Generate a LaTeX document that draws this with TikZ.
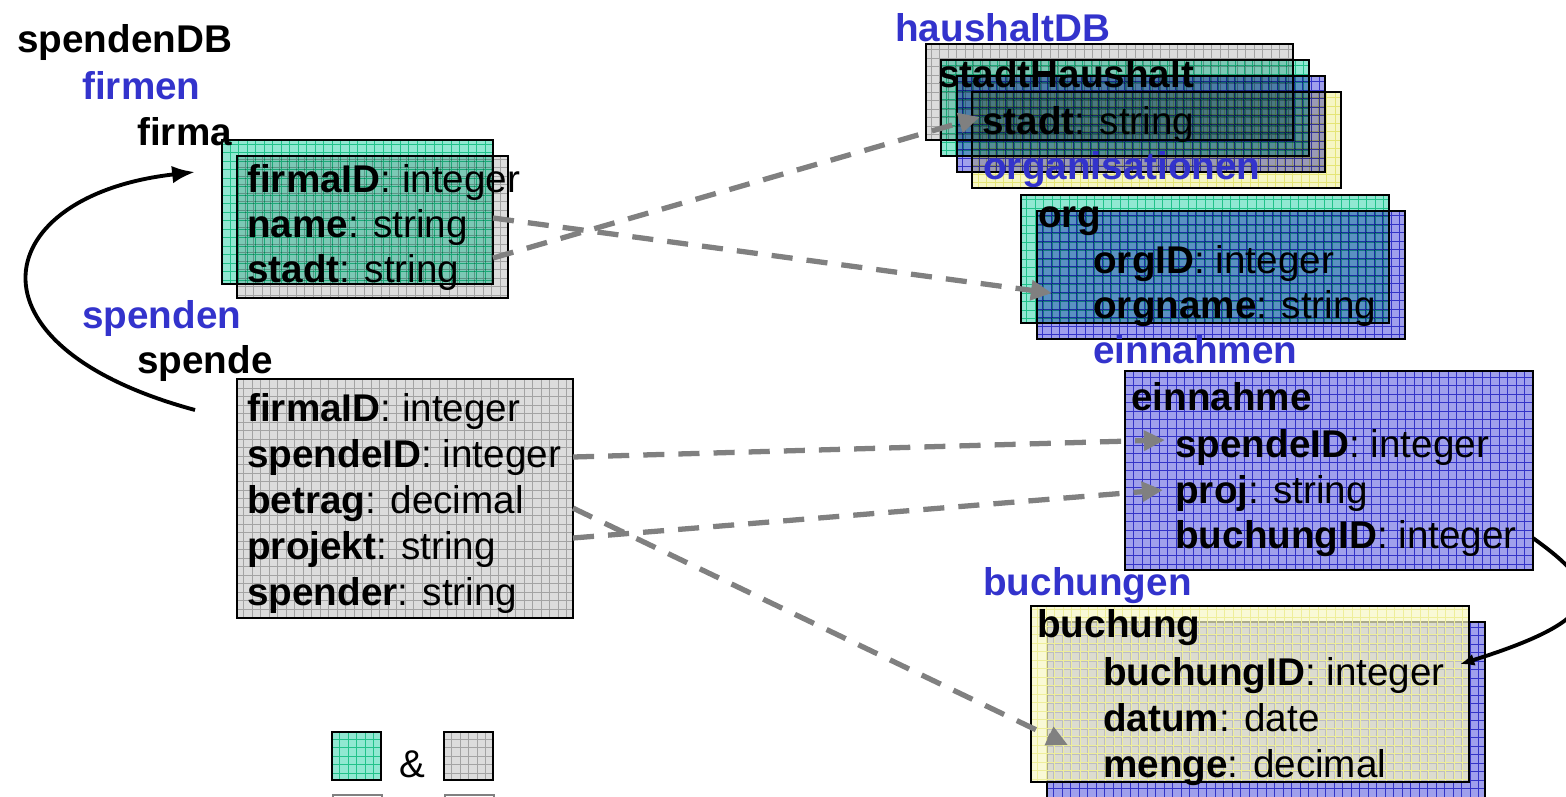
\documentclass[tikz,border=0pt]{standalone}
\usepackage{fontspec}
\setmainfont{Liberation Sans}
\usetikzlibrary{arrows.meta,calc}
\newcommand\dbfont{\fontsize{22}{26}\selectfont}

\begin{document}
\begin{tikzpicture}
  % Two databases: spendenDB (left), haushaltDB (right).
  \definecolor{dbblue}{HTML}{3333CC}
  \definecolor{greenfill}{HTML}{90E8D2}
  \definecolor{greengrid}{HTML}{3CD6A8}
  \definecolor{greyfill}{HTML}{DCDCDC}
  \definecolor{greygrid}{HTML}{BDBDBD}
  \definecolor{bluefill}{HTML}{A0A0EC}
  \definecolor{bluegrid}{HTML}{5454D8}
  \definecolor{yellowfill}{HTML}{F6F6C4}
  \definecolor{yellowgrid}{HTML}{EEEE9A}
  \definecolor{link}{HTML}{808080}
  \useasboundingbox (0,0) rectangle (31.32,15.92);
  \clip (0,0) rectangle (31.32,15.92);

  \tikzset{
    tbl/.style={draw=black, line width=1pt, fill=#1fill, inner sep=0pt, outer sep=0pt, anchor=north west,
      path picture={\draw[#1grid, line width=.25pt, step=.17] (path picture bounding box.south west) grid (path picture bounding box.north east);}},
    field/.style={anchor=base west, inner sep=0pt, font=\dbfont},
    head/.style={field, font=\dbfont\bfseries},
    coll/.style={head, text=dbblue},
    ref/.style={link, line width=3pt, dash pattern=on 12pt off 8pt, -{Triangle[length=12pt,width=11pt]}},
    loop/.style={black, line width=2.2pt}
  }

  \begin{scope}[blend mode=multiply]
    \node[tbl=grey, minimum width=5.42cm, minimum height=2.84cm] (firmaBack) at (4.74,12.80) {};
    \node[tbl=green, minimum width=5.42cm, minimum height=2.88cm] (firma) at (4.44,13.12) {};
    \node[tbl=grey, minimum width=6.72cm, minimum height=4.78cm] (spende) at (4.74,8.34) {};
    \node[tbl=yellow, minimum width=7.38cm, minimum height=1.92cm] (stadtD) at (19.44,14.08) {};
    \node[tbl=blue, minimum width=7.36cm, minimum height=1.92cm] (stadtC) at (19.14,14.40) {};
    \node[tbl=green, minimum width=7.36cm, minimum height=1.92cm] (stadtB) at (18.82,14.72) {};
    \node[tbl=grey, minimum width=7.34cm, minimum height=1.92cm] (stadt) at (18.52,15.04) {};
    \node[tbl=blue, minimum width=7.36cm, minimum height=2.56cm] (orgBack) at (20.74,11.70) {};
    \node[tbl=green, minimum width=7.36cm, minimum height=2.56cm] (org) at (20.42,12.02) {};
    \node[tbl=blue, minimum width=8.16cm, minimum height=3.98cm] (einnahme) at (22.50,8.50) {};
    \node[tbl=blue, minimum width=8.76cm, minimum height=3.60cm] (buchungBack) at (20.94,3.48) {};
    \node[tbl=green, minimum width=.98cm, minimum height=.96cm] (keyGreen) at (6.64,1.28) {};
    \node[tbl=grey, minimum width=.98cm, minimum height=.96cm] (keyGrey) at (8.88,1.28) {};
  \end{scope}
  \node[tbl=yellow, fill opacity=.7, minimum width=8.76cm, minimum height=3.52cm] (buchung) at (20.62,3.80) {};
  \node[draw=link, line width=1pt, minimum width=.98cm, minimum height=.96cm, anchor=north west] (keyGreenB) at (6.64,.04) {};
  \node[draw=link, line width=1pt, minimum width=.98cm, minimum height=.96cm, anchor=north west] (keyGreyB) at (8.88,.04) {};
  \node[font=\dbfont, inner sep=0pt] (keyAnd) at (8.24,.64) {\&};

  % spendenDB
  \node[head] (dbSpenden) at (0.34,14.86) {spendenDB};
  \node[coll] (cFirmen) at (1.64,13.92) {firmen};
  \node[head] (tFirma) at (2.74,13.00) {firma};
  \node[field] (fFirmaID) at (4.94,12.08) {\textbf{firmaID}: integer};
  \node[field] (fName) at (4.94,11.18) {\textbf{name}: string};
  \node[field] (fStadt) at (4.94,10.28) {\textbf{stadt}: string};
  \node[coll] (cSpenden) at (1.64,9.36) {spenden};
  \node[head] (tSpende) at (2.74,8.46) {spende};
  \node[field] (sFirmaID) at (4.94,7.50) {\textbf{firmaID}: integer};
  \node[field] (sSpendeID) at (4.94,6.58) {\textbf{spendeID}: integer};
  \node[field] (sBetrag) at (4.94,5.66) {\textbf{betrag}: decimal};
  \node[field] (sProjekt) at (4.94,4.74) {\textbf{projekt}: string};
  \node[field] (sSpender) at (4.94,3.82) {\textbf{spender}: string};

  % haushaltDB
  \node[coll] (dbHaushalt) at (17.90,15.08) {haushaltDB};
  \node[head] (tStadt) at (18.76,14.16) {stadtHaushalt};
  \node[field] (hStadt) at (19.64,13.22) {\textbf{stadt}: string};
  \node[coll] (cOrgs) at (19.66,12.32) {organisationen};
  \node[head] (tOrg) at (20.76,11.38) {org};
  \node[field] (oID) at (21.86,10.46) {\textbf{orgID}: integer};
  \node[field] (oName) at (21.86,9.56) {\textbf{orgname}: string};
  \node[coll] (cEinnahmen) at (21.86,8.66) {einnahmen};
  \node[head] (tEinnahme) at (22.62,7.72) {einnahme};
  \node[field] (eSpendeID) at (23.50,6.78) {\textbf{spendeID}: integer};
  \node[field] (eProj) at (23.50,5.86) {\textbf{proj}: string};
  \node[field] (eBuchungID) at (23.50,4.96) {\textbf{buchungID}: integer};
  \node[coll] (cBuchungen) at (19.66,4.02) {buchungen};
  \node[head] (tBuchung) at (20.74,3.18) {buchung};
  \node[field] (bBuchungID) at (22.06,2.22) {\textbf{buchungID}: integer};
  \node[field] (bDatum) at (22.06,1.30) {\textbf{datum}: date};
  \node[field] (bMenge) at (22.06,0.38) {\textbf{menge}: decimal};

  % Mappings between the two databases.
  \draw[ref] ($(fStadt.east -| firma.east)+(0,.28)$) -- ($(hStadt.west)+(-.04,.16)$);
  \draw[ref] ($(fName.east -| firma.east)+(0,.18)$) -- ($(oName.west)+(-.82,.3)$);
  \draw[ref] (sSpendeID.east -| spende.east) -- ($(eSpendeID.west)+(-.2,.14)$);
  \draw[ref] ($(sProjekt.east -| spende.east)+(0,.22)$) -- ($(eProj.west)+(-.24,.06)$);
  \draw[ref] ($(sBetrag.east -| spende.east)+(0,-.1)$) -- ($(bMenge.west)+(-.7,.44)$);

  \draw[loop, -{Latex[length=13pt,width=10pt]}] ([shift={(-.84,-.62)}]spende.north west)
    .. controls +(-4.8,1.3) and +(-4.1,-.46) .. ([shift={(-.54,-.64)}]firma.north west);
  \draw[loop, -{Latex[length=8pt,width=7pt]}] (eBuchungID.east -| einnahme.east)
    .. controls +(1.34,-.96) and +(3.08,.96) .. ($(bBuchungID.east)+(.3,.22)$);
\end{tikzpicture}
\end{document}
